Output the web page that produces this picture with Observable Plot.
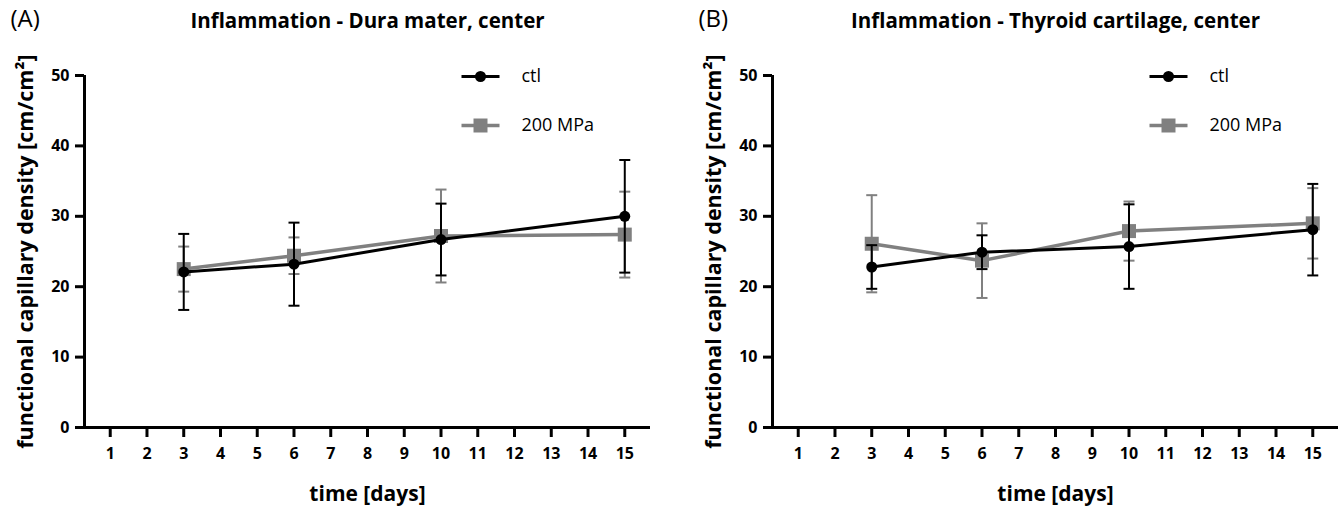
<!DOCTYPE html>
<html>
<head>
<meta charset="utf-8">
<script src="https://cdn.jsdelivr.net/npm/d3@7"></script>
<script src="https://cdn.jsdelivr.net/npm/@observablehq/plot@0.6"></script>
<style>
  body { margin: 0; background: #fff; }
  #wrap { display: flex; width: 1341px; height: 506px; }
  #wrap svg { font-family: "Open Sans", sans-serif; color: #000; }
</style>
</head>
<body>
<div id="wrap"></div>
<script>
// Observation days and axis ticks
const days = [3, 6, 10, 15];
const xTicks = [1, 2, 3, 4, 5, 6, 7, 8, 9, 10, 11, 12, 13, 14, 15];
const yTicks = [0, 10, 20, 30, 40, 50];
const seriesNames = ["ctl", "200 MPa"];

// (A) Dura mater, center — mean and SD
const duraCtlMean = [22.1, 23.2, 26.7, 30.0];
const duraCtlSd   = [5.4, 5.9, 5.1, 8.0];
const duraMpaMean = [22.5, 24.4, 27.2, 27.4];
const duraMpaSd   = [3.2, 2.6, 6.6, 6.1];

// (B) Thyroid cartilage, center — mean and SD
const thyCtlMean = [22.8, 24.9, 25.7, 28.1];
const thyCtlSd   = [3.1, 2.4, 6.0, 6.5];
const thyMpaMean = [26.1, 23.7, 27.9, 29.0];
const thyMpaSd   = [6.9, 5.3, 4.2, 5.0];

const xDomain = [0.3, 15.7];
const yDomain = [0, 50];
const GRAY = "#808080";
const BLACK = "#000000";

// horizontal stroke used for error-bar caps and legend swatches
const hLine = {
  draw(context, size) {
    const r = Math.sqrt(size / Math.PI);
    context.moveTo(-r, 0);
    context.lineTo(r, 0);
  }
};

function rows(means, sds) {
  return days.map((d, i) => ({day: d, mean: means[i], sd: sds[i]}));
}

function seriesMarks(data, color, symbol, r, lineWidth) {
  const caps = data.flatMap(d => [{day: d.day, v: d.mean - d.sd}, {day: d.day, v: d.mean + d.sd}]);
  return [
    Plot.ruleX(data, {x: "day", y1: d => d.mean - d.sd, y2: d => d.mean + d.sd, stroke: color, strokeWidth: 2}),
    Plot.dot(caps, {x: "day", y: "v", symbol: hLine, r: 5.5, stroke: color, strokeWidth: 2, fill: "none"}),
    Plot.line(data, {x: "day", y: "mean", stroke: color, strokeWidth: lineWidth}),
    Plot.dot(data, {x: "day", y: "mean", symbol, r, fill: color, stroke: "none"})
  ];
}

function panel({letter, title, ctl, ctlSd, mpa, mpaSd, width, marginRight}) {
  const ctlRows = rows(ctl, ctlSd);
  const mpaRows = rows(mpa, mpaSd);
  return Plot.plot({
    width,
    height: 506,
    marginLeft: 84,
    marginRight,
    marginTop: 75,
    marginBottom: 79,
    style: {fontFamily: "'Open Sans', sans-serif", background: "#fff", overflow: "visible"},
    x: {domain: xDomain},
    y: {domain: yDomain},
    marks: [
      // axis lines
      Plot.ruleY([0], {x1: xDomain[0], x2: xDomain[1], strokeWidth: 3}),
      Plot.ruleX([xDomain[0]], {y1: yDomain[0], y2: yDomain[1], strokeWidth: 3}),
      Plot.axisY(yTicks, {tickSize: 9, tickPadding: 6, strokeWidth: 3, fontSize: 16, fontWeight: "bold", label: null}),
      Plot.axisX(xTicks, {tickSize: 10, tickPadding: 10, strokeWidth: 3, fontSize: 16, fontWeight: "bold", label: null}),
      // axis titles
      Plot.text(["functional capillary density [cm/cm²]"], {frameAnchor: "left", dx: -58, rotate: -90, fontSize: 21.5, fontWeight: "bold", textAnchor: "middle", lineAnchor: "middle"}),
      Plot.text(["time [days]"], {frameAnchor: "bottom", dy: 67, fontSize: 21, fontWeight: "bold", lineAnchor: "middle"}),
      // panel letter and title
      Plot.text([letter], {frameAnchor: "top-left", dx: -74, dy: -56, fontSize: 24, textAnchor: "start", lineAnchor: "middle"}),
      Plot.text([title], {frameAnchor: "top", dy: -54, fontSize: 20.5, fontWeight: "bold", lineAnchor: "middle"}),
      // series: 200 MPa underneath, ctl on top
      ...seriesMarks(mpaRows, GRAY, "square", 7.9, 3.5),
      ...seriesMarks(ctlRows, BLACK, "circle", 5.5, 3),
      // legend
      Plot.dot([0], {frameAnchor: "top-left", dx: 396, dy: 1, symbol: hLine, r: 19, stroke: BLACK, strokeWidth: 3}),
      Plot.dot([0], {frameAnchor: "top-left", dx: 396, dy: 1, symbol: "circle", r: 5.5, fill: BLACK}),
      Plot.text([seriesNames[0]], {frameAnchor: "top-left", dx: 437, dy: 1, fontSize: 18, textAnchor: "start", lineAnchor: "middle"}),
      Plot.dot([0], {frameAnchor: "top-left", dx: 396, dy: 50, symbol: hLine, r: 19, stroke: GRAY, strokeWidth: 3.5}),
      Plot.dot([0], {frameAnchor: "top-left", dx: 396, dy: 50, symbol: "square", r: 7.9, fill: GRAY}),
      Plot.text([seriesNames[1]], {frameAnchor: "top-left", dx: 437, dy: 50, fontSize: 18, textAnchor: "start", lineAnchor: "middle"})
    ]
  });
}

const wrap = document.getElementById("wrap");
wrap.append(panel({
  letter: "(A)", title: "Inflammation - Dura mater, center",
  ctl: duraCtlMean, ctlSd: duraCtlSd, mpa: duraMpaMean, mpaSd: duraMpaSd,
  width: 688, marginRight: 38
}));
wrap.append(panel({
  letter: "(B)", title: "Inflammation - Thyroid cartilage, center",
  ctl: thyCtlMean, ctlSd: thyCtlSd, mpa: thyMpaMean, mpaSd: thyMpaSd,
  width: 653, marginRight: 3
}));
</script>
</body>
</html>
